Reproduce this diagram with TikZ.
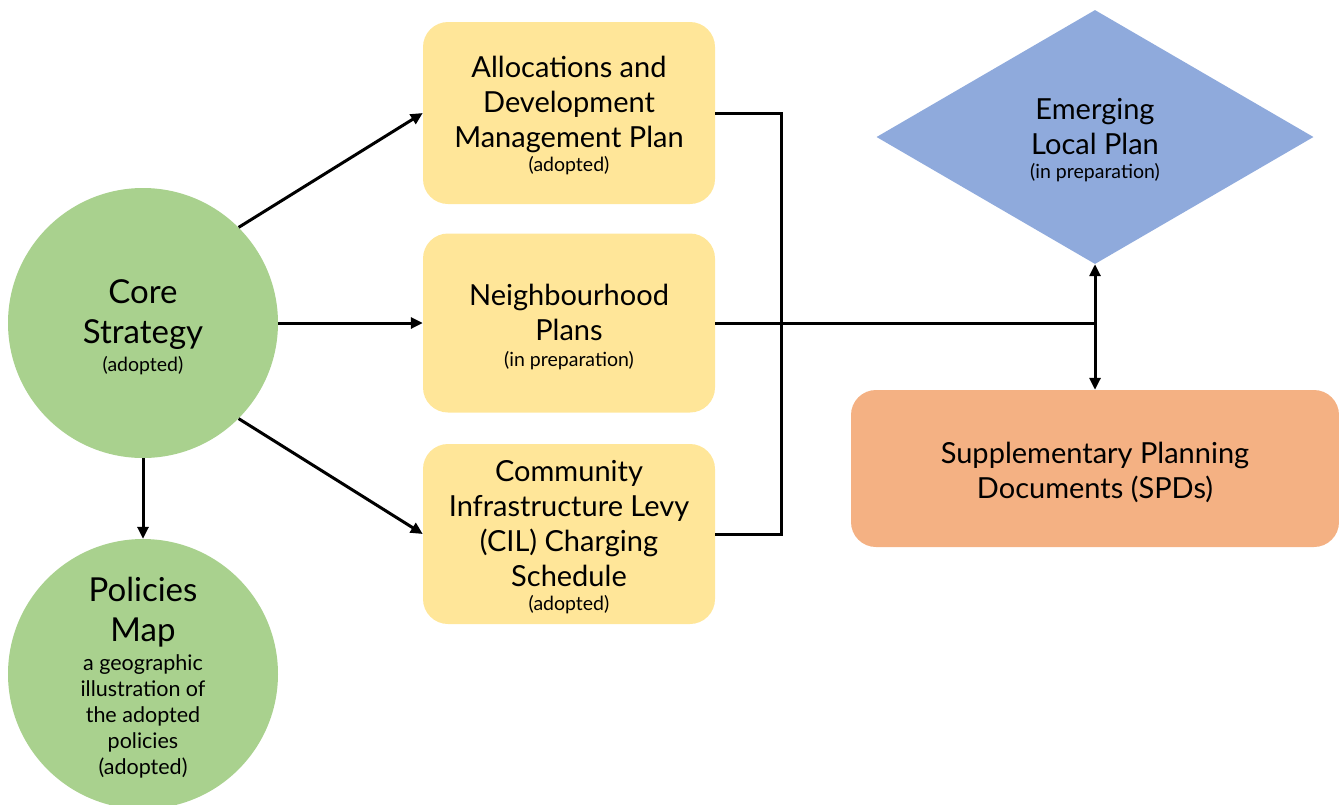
\documentclass[tikz,border=0pt]{standalone}
\usepackage{fontspec}
\setmainfont{Lato}
\usetikzlibrary{arrows.meta,shapes.geometric}
\definecolor{cgreen}{HTML}{A9D18E}
\definecolor{cyellow}{HTML}{FFE699}
\definecolor{cblue}{HTML}{8FAADC}
\definecolor{corange}{HTML}{F4B183}
\newcommand{\bigtxt}{\fontsize{33}{40}\selectfont}
\newcommand{\midtxt}{\fontsize{29}{35}\selectfont}
\newcommand{\smtxt}{\fontsize{19.5}{24}\selectfont}
\newcommand{\mdsmtxt}{\fontsize{21.5}{26}\selectfont}
\tikzset{
  circ/.style={circle, fill=cgreen, minimum size=270pt, inner sep=0pt},
  ybox/.style={rectangle, rounded corners=25pt, fill=cyellow, minimum width=292pt, inner sep=0pt},
  txt/.style={align=center, inner sep=0pt, text=black},
  conn/.style={line width=3pt, draw=black},
  arr/.style={conn, -{Triangle[length=12pt,width=11pt]}},
  dblarr/.style={conn, {Triangle[length=12pt,width=11pt]}-{Triangle[length=12pt,width=11pt]}},
}
\begin{document}
\begin{tikzpicture}[x=1pt,y=-1pt]
\useasboundingbox (0,0) rectangle (1339,804);
% shapes
\node[circ] (core) at (143,323) {};
\node[circ] (map) at (143,674) {};
\node[ybox, minimum height=182pt] (adm) at (569,113) {};
\node[ybox, minimum height=179pt] (nbp) at (569,323) {};
\node[ybox, minimum height=180pt] (cil) at (569,534) {};
\node[diamond, fill=cblue, minimum width=437pt, minimum height=254pt, inner sep=0pt] (elp) at (1095,137) {};
\node[rectangle, rounded corners=25pt, fill=corange, minimum width=488pt, minimum height=157pt, inner sep=0pt] (spd) at (1095,468.5) {};
% texts
\node[txt, font=\bigtxt] (coreT) at (143,327.5) {Core\\Strategy\\[-12pt]\smtxt (adopted)};
\node[txt, font=\mdsmtxt] (mapT) at (143,678) {\bigtxt Policies\\[14pt]\bigtxt Map\\[3pt]a geographic\\illustration of\\the adopted\\policies\\(adopted)};
\node[txt, font=\midtxt] (admT) at (569,115.5) {Allocations and\\Development\\Management Plan\\[-11pt]\smtxt (adopted)};
\node[txt, font=\midtxt] (nbpT) at (569,327) {Neighbourhood\\Plans\\[-9pt]\smtxt (in preparation)};
\node[txt, font=\midtxt] (cilT) at (569,537) {Community\\Infrastructure Levy\\(CIL) Charging\\Schedule\\[-11pt]\smtxt (adopted)};
\node[txt, font=\midtxt] (elpT) at (1095,140.5) {Emerging\\Local Plan\\[-11pt]\smtxt (in preparation)};
\node[txt, font=\midtxt] (spdT) at (1095,472.5) {Supplementary Planning\\Documents (SPDs)};
\coordinate (bx) at (781,0);
% connectors
\draw[arr] (core.45) -- (adm.west);
\draw[arr] (core.east) -- (nbp.west);
\draw[arr] (core.-45) -- (cil.west);
\draw[arr] (core.south) -- (map.north);
\draw[conn] (adm.east) -- (adm.east -| bx) -- (cil.east -| bx) -- (cil.east);
\draw[conn] (nbp.east) -- (nbp.east -| elp.south);
\draw[dblarr] (elp.south) -- (spd.north);
\end{tikzpicture}
\end{document}
